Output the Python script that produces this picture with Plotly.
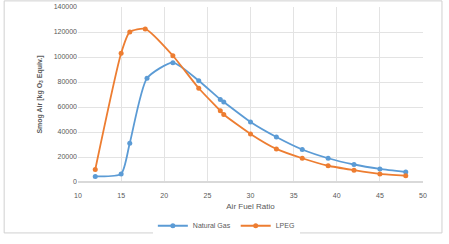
import plotly.graph_objects as go

ng_x = [12, 15, 16, 18, 21, 24, 26.5, 26.9, 30, 33, 36, 39, 42, 45, 48]
ng_y = [4500, 6500, 31000, 83000, 95500, 81000, 66000, 64000, 48000, 36000, 26000, 19000, 14000, 10500, 8000]
lp_x = [12, 15, 16, 17.8, 21, 24, 26.5, 26.9, 30, 33, 36, 39, 42, 45, 48]
lp_y = [10000, 103000, 120000, 122500, 101000, 75000, 57000, 54000, 38500, 26500, 19000, 13000, 9500, 6500, 5000]
x_ticks = [10, 15, 20, 25, 30, 35, 40, 45, 50]
y_ticks = [0, 20000, 40000, 60000, 80000, 100000, 120000, 140000]

fig = go.Figure()
fig.add_trace(go.Scatter(x=ng_x, y=ng_y, name="Natural Gas", mode="lines+markers",
                         line=dict(color="#5B9BD5", width=1.8, shape="spline", smoothing=0.6),
                         marker=dict(size=5, color="#5B9BD5")))
fig.add_trace(go.Scatter(x=lp_x, y=lp_y, name="LPEG", mode="lines+markers",
                         line=dict(color="#ED7D31", width=1.8, shape="spline", smoothing=0.6),
                         marker=dict(size=5, color="#ED7D31")))

fig.update_layout(
    width=449, height=244,
    margin=dict(l=78, r=26, t=7, b=62, autoexpand=False),
    paper_bgcolor="white", plot_bgcolor="white",
    font=dict(family="Liberation Sans", size=7, color="#595959"),
    showlegend=True,
    legend=dict(orientation="h", x=0.43, xanchor="center", y=-0.25, yanchor="middle",
                font=dict(size=7, color="#595959"), itemwidth=30),
    xaxis=dict(range=[10, 50], tickvals=x_ticks, showgrid=True, gridcolor="#E3E3E3",
               gridwidth=0.8, zeroline=False, showline=False, ticks="", automargin=False,
               ticklabelstandoff=8,
               title=dict(text="Air Fuel Ratio", font=dict(size=8, color="#595959"), standoff=5)),
    yaxis=dict(range=[0, 140000], tickvals=y_ticks, tickformat="d", showgrid=True,
               gridcolor="#E3E3E3", gridwidth=0.8, zeroline=True, zerolinecolor="#D9D9D9",
               showline=False, ticks="", ticksuffix="  ", automargin=False,
               title=dict(text="<b>Smog Air [kg O<sub>3</sub> Equiv.]</b>",
                          font=dict(size=7, color="#595959"), standoff=10)),
    shapes=[dict(type="rect", xref="paper", yref="paper", x0=-0.214, x1=1.055, y0=-0.291, y1=1.035,
                 line=dict(color="#D0D0D0", width=1), fillcolor="rgba(0,0,0,0)", layer="above")],
)

fig.write_html("out.html", config={"displayModeBar": False},
               post_script="document.body.style.margin='0';")
